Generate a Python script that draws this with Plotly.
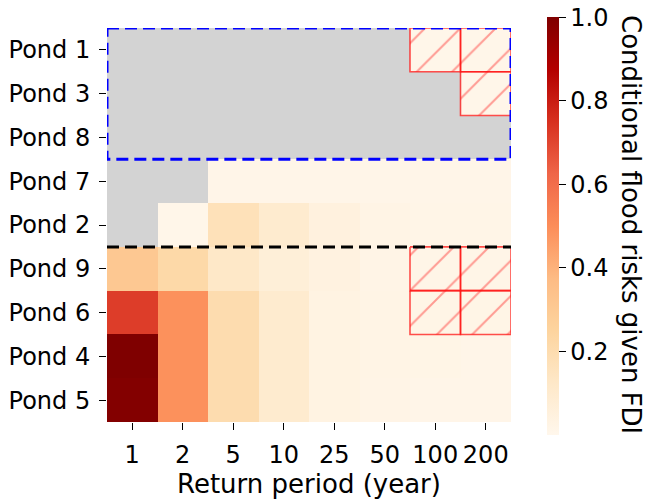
import plotly.graph_objects as go

# Return periods (columns) and ponds (rows, top to bottom)
return_periods = ["1", "2", "5", "10", "25", "50", "100", "200"]
ponds = ["Pond 1", "Pond 3", "Pond 8", "Pond 7", "Pond 2", "Pond 9", "Pond 6", "Pond 4", "Pond 5"]

# Conditional flood risk given FDI (None = not applicable)
risk_pond1 = [None, None, None, None, None, None, 0.01, 0.01]
risk_pond3 = [None, None, None, None, None, None, None, 0.01]
risk_pond8 = [None, None, None, None, None, None, None, None]
risk_pond7 = [None, None, 0.015, 0.015, 0.015, 0.015, 0.015, 0.015]
risk_pond2 = [None, 0.012, 0.17, 0.10, 0.05, 0.025, 0.018, 0.018]
risk_pond9 = [0.31, 0.22, 0.125, 0.07, 0.04, 0.022, 0.018, 0.018]
risk_pond6 = [0.72, 0.49, 0.20, 0.10, 0.035, 0.025, 0.02, 0.02]
risk_pond4 = [1.0, 0.49, 0.20, 0.10, 0.035, 0.025, 0.02, 0.015]
risk_pond5 = [0.99, 0.49, 0.20, 0.10, 0.035, 0.022, 0.015, 0.015]

# Cells flagged with hatching: (pond, return period)
hatched_cells = [
    ("Pond 1", "100"), ("Pond 1", "200"),
    ("Pond 3", "200"),
    ("Pond 9", "100"), ("Pond 9", "200"),
    ("Pond 6", "100"), ("Pond 6", "200"),
]

# Groups outlined on the chart
boxed_ponds = ["Pond 1", "Pond 3", "Pond 8"]
divider_after = "Pond 2"

z = [risk_pond1, risk_pond3, risk_pond8, risk_pond7, risk_pond2,
     risk_pond9, risk_pond6, risk_pond4, risk_pond5]

FONT = "DejaVu Sans"
FS = 24        # tick labels
FS_TITLE = 26  # axis / colorbar titles

xi = list(range(len(return_periods)))
yi = list(range(len(ponds)))

fig = go.Figure()

fig.add_trace(go.Heatmap(
    z=z, x=xi, y=yi,
    colorscale="OrRd", zmin=0, zmax=1,
    hoverongaps=False,
    colorbar=dict(
        x=1.089, xanchor="left", xpad=0,
        y=0.497, yanchor="middle", ypad=0,
        len=418, lenmode="pixels",
        thickness=12, outlinewidth=0,
        tickvals=[0.2, 0.4, 0.6, 0.8, 1.0],
        tickformat=".1f",
        ticks="outside", ticklen=7, tickwidth=1.2, tickcolor="black",
        tickfont=dict(family=FONT, size=FS, color="black"),
    ),
))

# Hatched cells as patterned polygons
hx, hy = [], []
for pond, rp in hatched_cells:
    r = ponds.index(pond)
    c = return_periods.index(rp)
    hx += [c - 0.5, c + 0.5, c + 0.5, c - 0.5, c - 0.5, None]
    hy += [r - 0.5, r - 0.5, r + 0.5, r + 0.5, r - 0.5, None]
fig.add_trace(go.Scatter(
    x=hx, y=hy, mode="lines", fill="toself",
    fillcolor="rgba(0,0,0,0)",
    fillpattern=dict(shape="/", fgcolor="rgba(255,20,20,0.8)",
                     bgcolor="rgba(0,0,0,0)", size=25, solidity=0.08),
    line=dict(color="rgba(255,20,20,0.75)", width=1.6),
    hoverinfo="skip", showlegend=False,
))

# Dashed box around the top group
top = ponds.index(boxed_ponds[0]) - 0.5
bottom = ponds.index(boxed_ponds[-1]) + 0.5
fig.add_shape(type="rect", x0=-0.5, x1=len(return_periods) - 0.5, y0=top, y1=bottom,
              line=dict(color="blue", width=3, dash="12px,6px"), layer="above")

# Dashed divider line
yd = ponds.index(divider_after) + 0.5
fig.add_shape(type="line", x0=-0.5, x1=len(return_periods) - 0.5, y0=yd, y1=yd,
              line=dict(color="black", width=3, dash="12px,6px"), layer="above")

# Colorbar label
fig.add_annotation(
    x=1.297, y=0.5, xref="paper", yref="paper", xanchor="center", yanchor="middle",
    text="Conditional flood risks given FDI", textangle=90,
    showarrow=False, font=dict(family=FONT, size=FS_TITLE, color="black"),
)

fig.update_xaxes(
    range=[-0.5, len(return_periods) - 0.5],
    tickvals=xi, ticktext=return_periods,
    ticks="outside", ticklen=7, tickwidth=1.2, tickcolor="black",
    tickfont=dict(family=FONT, size=FS, color="black"),
    ticklabelstandoff=4,
    showgrid=False, zeroline=False, showline=False, automargin=False,
    title=dict(text="Return period (year)", font=dict(family=FONT, size=FS_TITLE, color="black"), standoff=7),
)
fig.update_yaxes(
    range=[len(ponds) - 0.5, -0.5],
    tickvals=yi, ticktext=ponds,
    ticks="outside", ticklen=7, tickwidth=1.2, tickcolor="black",
    tickfont=dict(family=FONT, size=FS, color="black"),
    ticklabelstandoff=4,
    showgrid=False, zeroline=False, showline=False, automargin=False,
)

fig.update_layout(
    width=646, height=500,
    margin=dict(l=107, r=135, t=28, b=78),
    plot_bgcolor="#d3d3d3", paper_bgcolor="white",
    font=dict(family=FONT, size=FS, color="black"),
    showlegend=False,
)

fig.write_html("out.html")
